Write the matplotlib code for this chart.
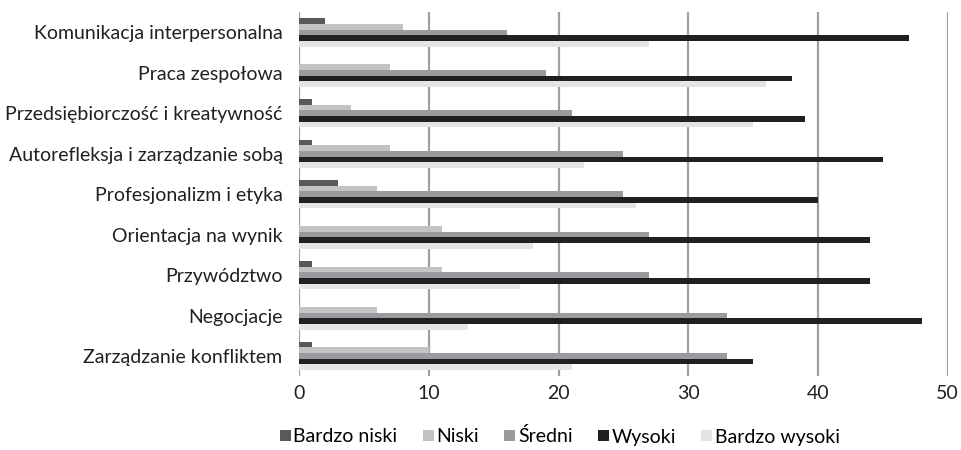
import numpy as np
import matplotlib
matplotlib.use('Agg')
import matplotlib.pyplot as plt

plt.rcParams['font.family'] = ['Lato', 'DejaVu Sans']

# competence areas, listed top to bottom
categories = ['Komunikacja interpersonalna', 'Praca zespołowa',
              'Przedsiębiorczość i kreatywność', 'Autorefleksja i zarządzanie sobą',
              'Profesjonalizm i etyka', 'Orientacja na wynik', 'Przywództwo',
              'Negocjacje', 'Zarządzanie konfliktem']

series_names = ['Bardzo niski', 'Niski', 'Średni', 'Wysoki', 'Bardzo wysoki']
bardzo_niski = [2, 0, 1, 1, 3, 0, 1, 0, 1]
niski = [8, 7, 4, 7, 6, 11, 11, 6, 10]
sredni = [16, 19, 21, 25, 25, 27, 27, 33, 33]
wysoki = [47, 38, 39, 45, 40, 44, 44, 48, 35]
bardzo_wysoki = [27, 36, 35, 22, 26, 18, 17, 13, 21]
colors = ['#58595b', '#c2c3c5', '#9a9b9e', '#231f20', '#e3e4e5']

values = [bardzo_niski, niski, sredni, wysoki, bardzo_wysoki]

fs = 14
fig = plt.figure(figsize=(9.62, 4.5), dpi=100)
ax = fig.add_axes([0.311, 0.164, 0.674, 0.809])

n = len(categories)
y = np.arange(n)
h = 0.14
for k, (vals, name, c) in enumerate(zip(values, series_names, colors)):
    offs = (k - 2) * h
    ax.barh(y + offs, vals, height=h, color=c, label=name, zorder=3)

ax.set_ylim(n - 0.5, -0.5)
ax.set_xlim(0, 50)
ax.set_xticks(range(0, 51, 10))
ax.set_yticks(y)
ax.set_yticklabels(categories)
ax.tick_params(axis='y', length=0, pad=12, labelsize=fs, colors='#231f20')
ax.tick_params(axis='x', length=0, pad=6, labelsize=fs, colors='#231f20')
ax.grid(axis='x', color='#a0a0a2', linewidth=1.6, zorder=0)
for s in ax.spines.values():
    s.set_visible(False)

handles, labels = ax.get_legend_handles_labels()
fig.legend(handles, labels, loc='center', bbox_to_anchor=(0.582, 0.03),
           ncol=5, frameon=False, fontsize=fs, handlelength=0.55,
           handleheight=0.55, handletextpad=0.15, columnspacing=1.3)

fig.savefig('out.png', dpi=100)
